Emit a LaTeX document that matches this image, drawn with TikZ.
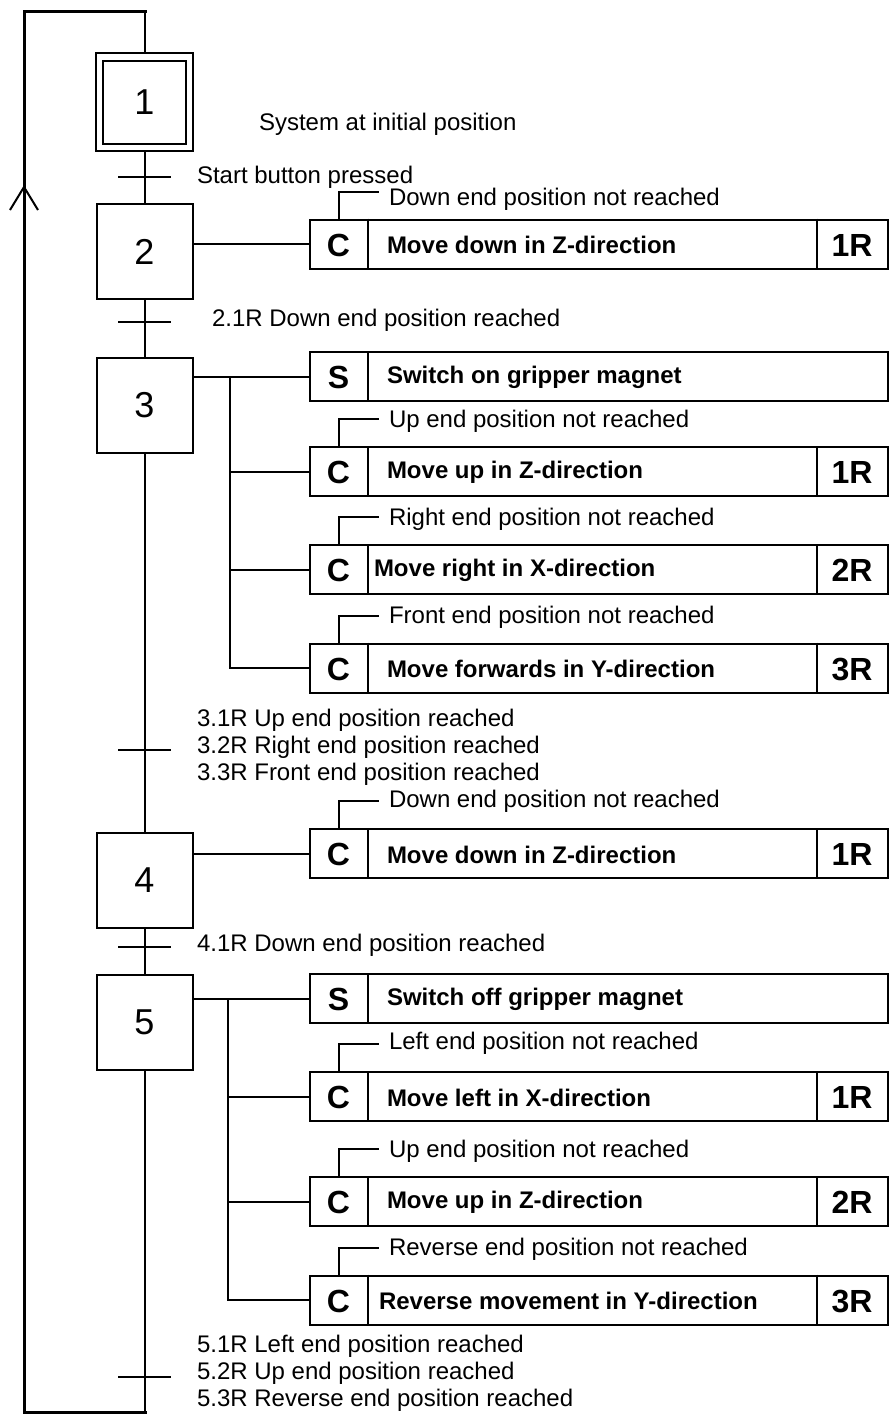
\documentclass[tikz,border=0pt]{standalone}
\usepackage{fontspec}
\setmainfont{Liberation Sans}

\begin{document}
\begin{tikzpicture}[x=1pt,y=-1pt,line width=2pt,
  stepbox/.style={draw,minimum width=96pt,minimum height=95pt,inner sep=0pt,font=\fontsize{36}{40}\selectfont},
  actbox/.style={draw,anchor=west,minimum width=578pt,minimum height=49pt,inner sep=0pt},
  qual/.style={inner sep=0pt,font=\fontsize{32}{34}\selectfont\bfseries},
  acttext/.style={anchor=west,inner sep=0pt,font=\fontsize{24}{27}\selectfont\bfseries},
  lbl/.style={anchor=west,inner sep=0pt,align=left,font=\fontsize{24}{27}\selectfont},
  cond/.style={anchor=west,inner sep=0pt,xshift=9pt,font=\fontsize{24}{27}\selectfont},
  loopline/.style={line width=3pt}]
  \useasboundingbox (0,0) rectangle (890,1414);

  % steps
  \node[stepbox,minimum width=97pt,minimum height=98pt] (s1) at (144.5,102) {};
  \node[stepbox,minimum size=83pt] (s1in) at (s1.center) {1};
  \node[stepbox] (s2) at (144.5,251.5) {2};
  \node[stepbox] (s3) at (144.5,405.5) {3};
  \node[stepbox] (s4) at (144.5,880) {4};
  \node[stepbox] (s5) at (144.5,1022) {5};

  % transitions
  \coordinate (t1) at (144.5,177);
  \coordinate (t2) at (144.5,322);
  \coordinate (t3) at (144.5,750);
  \coordinate (t4) at (144.5,947);
  \coordinate (t5) at (144.5,1377);
  \foreach \t in {t1,t2,t3,t4,t5} \draw ([xshift=-26.5pt]\t) -- ([xshift=26.5pt]\t);

  % main line and return loop
  \coordinate (top) at (144.5,11);
  \coordinate (bot) at (144.5,1412);
  \coordinate (tl) at (24,11);
  \coordinate (bl) at (24,1412);
  \draw (top) -- (s1.north);
  \draw (s1.south) -- (t1) -- (s2.north);
  \draw (s2.south) -- (t2) -- (s3.north);
  \draw (s3.south) -- (t3) -- (s4.north);
  \draw (s4.south) -- (t4) -- (s5.north);
  \draw (s5.south) -- (t5) -- (bot);
  \draw[loopline] ([xshift=2pt]top) -- (tl) -- (bl) -- ([xshift=2pt]bot);
  \coordinate (arr) at (24,187);
  \draw (arr) ++(-14,23) -- (arr) -- ++(14,23);

  \node[lbl] (l0) at (258,124) {System at initial position};
  \node[lbl] (l1) at (196,177) {Start button pressed};
  \node[lbl] (l2) at (211,320) {2.1R Down end position reached};
  \node[lbl] (l3) at (196,747) {3.1R Up end position reached\\3.2R Right end position reached\\3.3R Front end position reached};
  \node[lbl] (l4) at (196,945) {4.1R Down end position reached};
  \node[lbl] (l5) at (196,1373.5) {5.1R Left end position reached\\5.2R Up end position reached\\5.3R Reverse end position reached};

  % actions
  \foreach \n/\y/\q/\txt/\dx in {a2/244/C/Move down in Z-direction/77,
      a3s/376.5/S/Switch on gripper magnet/77,
      a3b/471.5/C/Move up in Z-direction/77,
      a3c/569.5/C/Move right in X-direction/64,
      a3d/668/C/Move forwards in Y-direction/77,
      a4/853.5/C/Move down in Z-direction/77,
      a5s/998.5/S/Switch off gripper magnet/77,
      a5b/1096.5/C/Move left in X-direction/77,
      a5c/1201.5/C/Move up in Z-direction/77,
      a5d/1300/C/Reverse movement in Y-direction/69}{
    \node[actbox] (\n) at (309,\y) {};
    \draw ([xshift=59pt]\n.north west) -- ([xshift=59pt]\n.south west);
    \node[qual] (\n-q) at ([xshift=29.5pt,yshift=-1pt]\n.west) {\q};
    \node[acttext] (\n-t) at ([xshift=\dx pt,yshift=-1pt]\n.west) {\txt};
  }
  \foreach \n/\r in {a2/1R,a3b/1R,a3c/2R,a3d/3R,a4/1R,a5b/1R,a5c/2R,a5d/3R}{
    \draw ([xshift=508pt]\n.north west) -- ([xshift=508pt]\n.south west);
    \node[qual] (\n-r) at ([xshift=543pt,yshift=-1pt]\n.west) {\r};
  }
  \foreach \n/\c/\dy in {a2/Down end position not reached/-8,
      a3b/Up end position not reached/-2,
      a3c/Right end position not reached/-2,
      a3d/Front end position not reached/-2,
      a4/Down end position not reached/0,
      a5b/Left end position not reached/1,
      a5c/Up end position not reached/-2,
      a5d/Reverse end position not reached/-2}
    \draw ([xshift=30pt]\n.north west) -- ++(0,-27) -- ++(40,0) node[cond,yshift=\dy pt] (\n-c) {\c};

  % links from steps to actions
  \draw (s2.east |- a2.west) -- (a2.west);
  \draw (s3.east |- a3s.west) -- (a3s.west);
  \draw (s4.east |- a4.west) -- (a4.west);
  \draw (s5.east |- a5s.west) -- (a5s.west);
  \coordinate (b3) at (230,376.5);
  \coordinate (b5) at (228,998.5);
  \foreach \n in {a3b,a3c,a3d} \draw (b3) |- (\n.west);
  \foreach \n in {a5b,a5c,a5d} \draw (b5) |- (\n.west);
\end{tikzpicture}
\end{document}
